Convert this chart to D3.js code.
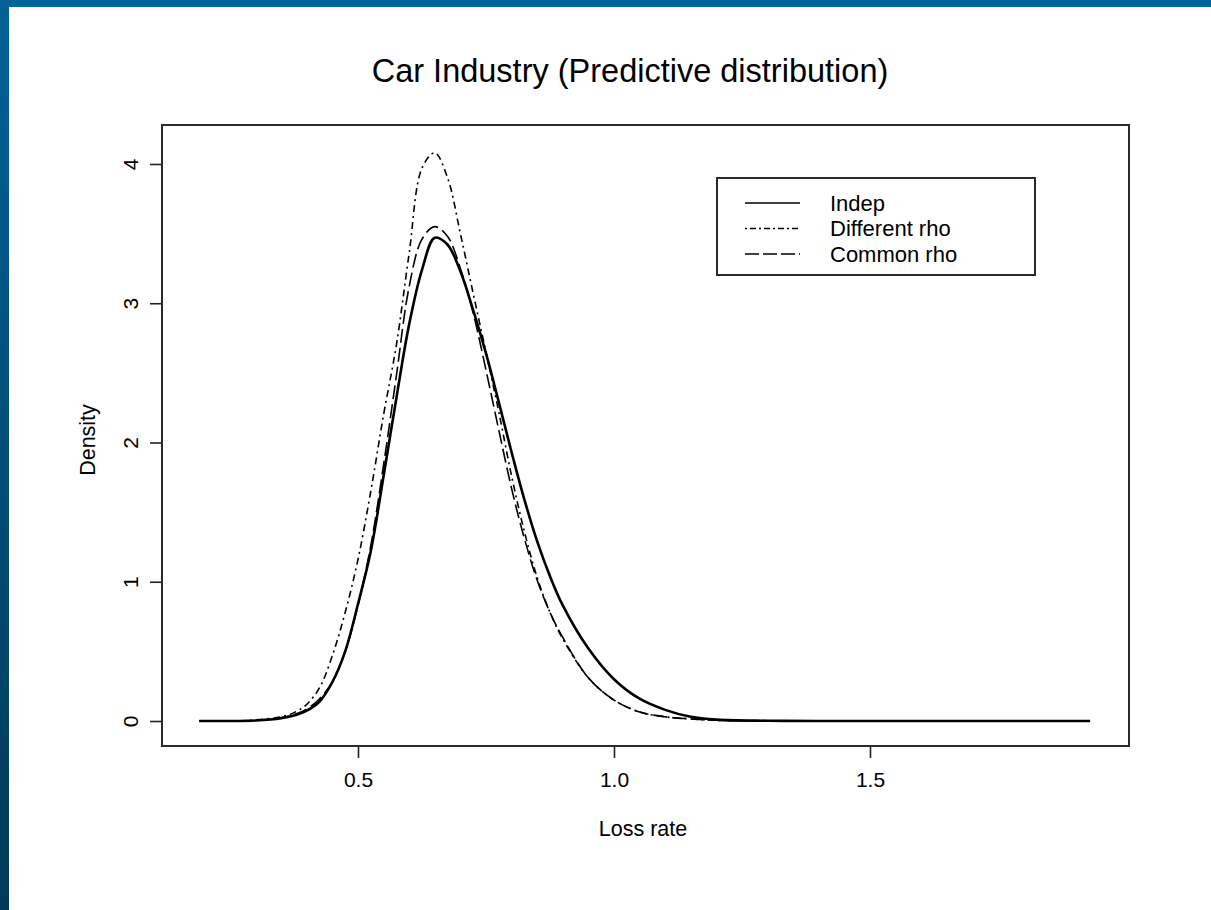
<!DOCTYPE html>
<html>
<head>
<meta charset="utf-8">
<script src="https://cdn.jsdelivr.net/npm/d3@7"></script>
<style>
  html, body { margin: 0; padding: 0; background: #ffffff; }
  svg { display: block; }
  text { font-family: "Liberation Sans", Arial, Helvetica, sans-serif; fill: #000; }
</style>
</head>
<body>
<svg id="chart" width="1211" height="910"></svg>
<script>
// Evaluation grid for the predictive densities (loss rate)
const lossRate = [0.19, 0.25, 0.30, 0.35, 0.375, 0.40, 0.425, 0.45, 0.475, 0.50, 0.525, 0.55, 0.575,
  0.60, 0.625, 0.65, 0.675, 0.70, 0.725, 0.75, 0.775, 0.80, 0.825, 0.85, 0.875, 0.90,
  0.95, 1.00, 1.05, 1.10, 1.15, 1.20, 1.30, 1.40, 1.60, 1.93];

// Density under independence
const indepDensity = [0, 0, 0.004, 0.02, 0.04, 0.075, 0.14, 0.28, 0.50, 0.84, 1.22, 1.76, 2.32,
  2.85, 3.24, 3.47, 3.42, 3.23, 2.95, 2.64, 2.29, 1.93, 1.59, 1.29, 1.04, 0.83,
  0.52, 0.30, 0.16, 0.08, 0.03, 0.01, 0.002, 0, 0, 0];

// Density with a different correlation per line
const differentRhoDensity = [0, 0, 0.008, 0.03, 0.06, 0.12, 0.24, 0.47, 0.78, 1.16, 1.65, 2.20, 2.70,
  3.36, 3.97, 4.08, 3.90, 3.50, 3.07, 2.65, 2.22, 1.76, 1.36, 1.03, 0.78, 0.59,
  0.31, 0.15, 0.065, 0.03, 0.015, 0.005, 0, 0, 0, 0];

// Density with one common correlation
const commonRhoDensity = [0, 0, 0.005, 0.025, 0.045, 0.085, 0.16, 0.28, 0.50, 0.83, 1.26, 1.84, 2.48,
  3.12, 3.46, 3.55, 3.48, 3.25, 2.93, 2.52, 2.09, 1.67, 1.31, 1.01, 0.78, 0.60,
  0.31, 0.15, 0.065, 0.03, 0.015, 0.005, 0, 0, 0, 0];

const xTicks = [0.5, 1.0, 1.5];
const xTickLabels = ["0.5", "1.0", "1.5"];
const yTicks = [0, 1, 2, 3, 4];
const yTickLabels = ["0", "1", "2", "3", "4"];

const seriesNames = ["Indep", "Different rho", "Common rho"];

const svg = d3.select("#chart");

// Blue frame along the top and left edges
const defs = svg.append("defs");
const grad = defs.append("linearGradient")
  .attr("id", "edgeBlue").attr("x1", 0).attr("y1", 0).attr("x2", 0).attr("y2", 1);
grad.append("stop").attr("offset", "0%").attr("stop-color", "#016296");
grad.append("stop").attr("offset", "100%").attr("stop-color", "#003a58");
svg.append("rect").attr("x", 0).attr("y", 0).attr("width", 1211).attr("height", 7).attr("fill", "#016296");
svg.append("rect").attr("x", 0).attr("y", 0).attr("width", 9).attr("height", 910).attr("fill", "url(#edgeBlue)");

// Plot region
const box = { left: 162, top: 125, right: 1129, bottom: 746 };

const x = d3.scaleLinear().domain([0.1172, 2.0059]).range([box.left, box.right]);
const y = d3.scaleLinear().domain([-0.1795, 4.280]).range([box.bottom, box.top]);

const line = d3.line()
  .x((d, i) => x(lossRate[i]))
  .y(d => y(d))
  .curve(d3.curveCatmullRom.alpha(0.5));

const series = [
  { name: seriesNames[0], values: indepDensity, width: 2.6, dash: null },
  { name: seriesNames[2], values: commonRhoDensity, width: 1.6, dash: "14,5" },
  { name: seriesNames[1], values: differentRhoDensity, width: 1.6, dash: "2,4,7,4" }
];

const plot = svg.append("g");
series.forEach(s => {
  plot.append("path")
    .datum(s.values)
    .attr("d", line)
    .attr("fill", "none")
    .attr("stroke", "#000")
    .attr("stroke-width", s.width)
    .attr("stroke-linejoin", "round")
    .attr("stroke-dasharray", s.dash);
});

// Axes
const xAxis = d3.axisBottom(x)
  .tickValues(xTicks)
  .tickFormat((d, i) => xTickLabels[i])
  .tickSize(12)
  .tickPadding(14);
const gx = svg.append("g").attr("transform", `translate(0,${box.bottom})`).call(xAxis);
gx.select(".domain").remove();
gx.selectAll(".tick line").attr("stroke", "#222").attr("stroke-width", 1.6);
gx.selectAll(".tick text").attr("font-size", 21).attr("fill", "#000");

const yAxis = d3.axisLeft(y)
  .tickValues(yTicks)
  .tickFormat((d, i) => yTickLabels[i])
  .tickSize(12);
const gy = svg.append("g").attr("transform", `translate(${box.left},0)`).call(yAxis);
gy.select(".domain").remove();
gy.selectAll(".tick line").attr("stroke", "#222").attr("stroke-width", 1.6);
gy.selectAll(".tick text")
  .attr("font-size", 21)
  .attr("fill", "#000")
  .attr("text-anchor", "middle")
  .attr("dy", null)
  .attr("x", null)
  .attr("transform", "translate(-32,0) rotate(-90)")
  .attr("dominant-baseline", "central");

// Frame around the plot region
svg.append("rect")
  .attr("x", box.left).attr("y", box.top)
  .attr("width", box.right - box.left).attr("height", box.bottom - box.top)
  .attr("fill", "none").attr("stroke", "#2a2a2a").attr("stroke-width", 2);

// Titles
svg.append("text")
  .attr("x", 630).attr("y", 82)
  .attr("text-anchor", "middle")
  .attr("font-size", 32.5)
  .text("Car Industry (Predictive distribution)");

svg.append("text")
  .attr("x", 643).attr("y", 836)
  .attr("text-anchor", "middle")
  .attr("font-size", 21.5)
  .text("Loss rate");

svg.append("text")
  .attr("transform", "translate(95,440) rotate(-90)")
  .attr("text-anchor", "middle")
  .attr("font-size", 21.5)
  .text("Density");

// Legend
const legend = svg.append("g");
legend.append("rect")
  .attr("x", 717).attr("y", 178).attr("width", 318).attr("height", 97)
  .attr("fill", "#fff").attr("stroke", "#2a2a2a").attr("stroke-width", 2);

const legendItems = [
  { name: seriesNames[0], dash: null },
  { name: seriesNames[1], dash: "2,3,6,3" },
  { name: seriesNames[2], dash: "14,4" }
];
legendItems.forEach((d, i) => {
  const cy = 203 + i * 25.5;
  legend.append("line")
    .attr("x1", 745).attr("x2", 800).attr("y1", cy).attr("y2", cy)
    .attr("stroke", "#000").attr("stroke-width", 1.4)
    .attr("stroke-dasharray", d.dash);
  legend.append("text")
    .attr("x", 830).attr("y", cy)
    .attr("dominant-baseline", "central")
    .attr("font-size", 22)
    .text(d.name);
});
</script>
</body>
</html>
